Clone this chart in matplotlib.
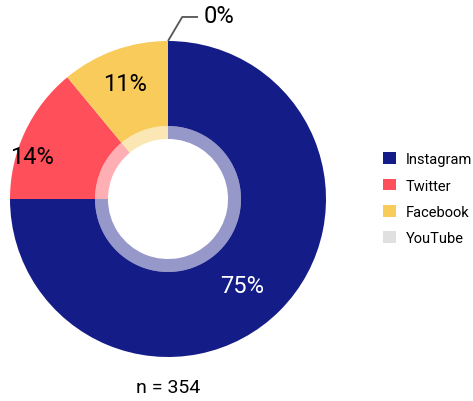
"""
Donut chart of platform share (n = 354).
"""
import matplotlib
matplotlib.use("Agg")
import matplotlib.pyplot as plt
from matplotlib.patches import Patch

platforms = ["Instagram", "Twitter", "Facebook", "YouTube"]
shares = [75, 14, 11, 0]
colors = ["#141c87", "#ff4f5a", "#f8cb5a", "#e0e0e0"]
label_text = ["75%", "14%", "11%", "0%"]
n_total = 354

plt.rcParams["font.family"] = ["Roboto", "DejaVu Sans"]


def main():
    fig = plt.figure(figsize=(4.73, 4.02), dpi=100)
    # pie centre (168, 200) px, radius 158 px
    ax = fig.add_axes([10 / 473, 44 / 402, 316 / 473, 316 / 402])

    ax.pie(shares, colors=colors, radius=1.0, startangle=90, counterclock=False,
           wedgeprops=dict(width=0.538, linewidth=0))
    # lighter inner band
    ax.pie(shares, colors=colors, radius=0.462, startangle=90, counterclock=False,
           wedgeprops=dict(width=0.082, linewidth=0, alpha=0.45))
    ax.set_xlim(-1, 1)
    ax.set_ylim(-1, 1)
    ax.set_aspect("equal")

    ax.text(0.47, -0.55, label_text[0], color="white", fontsize=17,
            ha="center", va="center")
    ax.text(-0.86, 0.27, label_text[1], color="black", fontsize=17,
            ha="center", va="center")
    ax.text(-0.27, 0.73, label_text[2], color="black", fontsize=17,
            ha="center", va="center")
    ax.plot([0, 0.09, 0.19], [1.0, 1.152, 1.152], color="#555555", lw=1.3,
            clip_on=False, solid_capstyle="butt")
    ax.text(0.32, 1.16, label_text[3], color="black", fontsize=17,
            ha="center", va="center", clip_on=False)

    handles = [Patch(facecolor=c, edgecolor="none", label=p)
               for p, c in zip(platforms, colors)]
    fig.legend(handles=handles, loc="upper left",
               bbox_to_anchor=(370 / 473, 1 - 140 / 402),
               frameon=False, fontsize=10.5, handlelength=0.85, handleheight=0.85,
               handletextpad=0.7, labelspacing=0.85)

    fig.text(168 / 473, 1 - 388 / 402, "n = %d" % n_total, fontsize=14,
             ha="center", va="center")

    fig.savefig("out.png", dpi=100)


if __name__ == "__main__":
    main()
